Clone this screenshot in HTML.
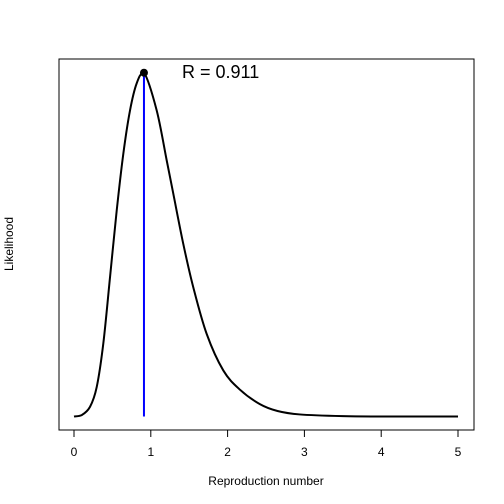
<!DOCTYPE html>
<html><head><meta charset="utf-8"><style>
body{margin:0;background:#fff}
svg{display:block;font-family:"Liberation Sans",Arial,sans-serif}
</style></head><body>
<svg width="504" height="504" viewBox="0 0 504 504">
<rect x="0" y="0" width="504" height="504" fill="#fff"/>
<rect x="59" y="59" width="415" height="371" fill="none" stroke="#000" stroke-width="1"/>
<g id="xaxis"></g>
<text x="266" y="485" font-size="12" text-anchor="middle">Reproduction number</text>
<text transform="translate(13,244) rotate(-90)" font-size="12" text-anchor="middle">Likelihood</text>
<g id="plot"></g>
</svg>
<script>
const rValues=[0,0.1,0.208,0.296,0.382,0.469,0.556,0.642,0.729,0.816,0.911,1.077,1.207,1.293,1.423,1.553,1.728,1.944,2.161,2.42,2.65,2.94,3.5,4,5];
const likelihood=[0,0.004,0.028,0.086,0.213,0.405,0.599,0.764,0.89,0.969,1.0,0.89,0.745,0.648,0.502,0.376,0.24,0.134,0.078,0.036,0.016,0.006,0.001,0,0];
const xTicks=[0,1,2,3,4,5];
const rHat=0.911;
const NS="http://www.w3.org/2000/svg";
const sx=v=>74+v*76.8;
const sy=v=>416.5-v*343.8;
function mk(tag,attrs,parent){const e=document.createElementNS(NS,tag);for(const k in attrs)e.setAttribute(k,attrs[k]);parent.appendChild(e);return e;}
const ax=document.getElementById('xaxis');
const axl=mk('line',{x1:sx(0),x2:sx(5),y1:430,y2:430,stroke:'#000'},ax);


xTicks.forEach(t=>{
 const tk=mk('line',{x1:sx(t),x2:sx(t),y1:430,y2:437,stroke:'#000'},ax);
 
 
 const tl=mk('text',{x:sx(t),y:456,'font-size':12,'text-anchor':'middle'},ax);
 tl.textContent=t;
 
 
});
const g=document.getElementById('plot');
const pts=rValues.map((r,i)=>[sx(r),sy(likelihood[i])]);
let d='M'+pts[0][0]+','+pts[0][1];
for(let i=0;i<pts.length-1;i++){
 const p0=pts[Math.max(0,i-1)],p1=pts[i],p2=pts[i+1],p3=pts[Math.min(pts.length-1,i+2)];
 const t=1/6;
 let c1=[p1[0]+(p2[0]-p0[0])*t,p1[1]+(p2[1]-p0[1])*t];
 let c2=[p2[0]-(p3[0]-p1[0])*t,p2[1]-(p3[1]-p1[1])*t];
 c1[1]=Math.max(Math.min(c1[1],sy(0)),sy(1));c2[1]=Math.max(Math.min(c2[1],sy(0)),sy(1));
 d+=' C'+c1.join(',')+' '+c2.join(',')+' '+p2.join(',');
}
const curve=mk('path',{d:d,fill:'none',stroke:'#000','stroke-width':2},g);


const vl=mk('line',{x1:sx(rHat),x2:sx(rHat),y1:sy(0),y2:sy(1),stroke:'#0000ff','stroke-width':2},g);


const pt=mk('circle',{cx:sx(rHat),cy:sy(1),r:4,fill:'#000'},g);


const lab=mk('text',{x:182,y:78,'font-size':18},g);
lab.textContent='R = '+rHat;


</script>
</body></html>
